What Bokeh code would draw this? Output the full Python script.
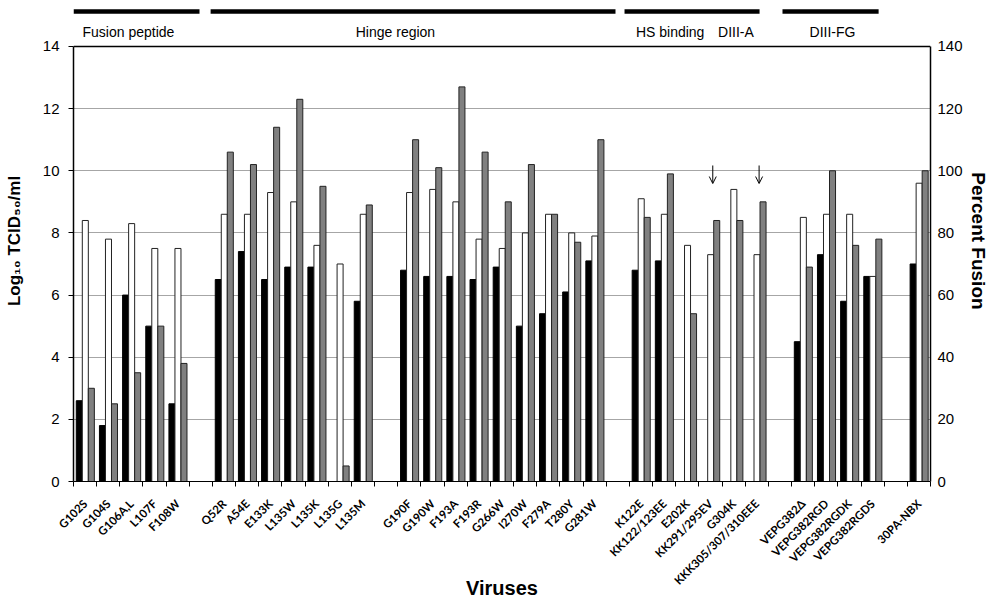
import numpy as np
from bokeh.plotting import figure
from bokeh.models import Range1d, LinearAxis, FixedTicker, Arrow, OpenHead
from bokeh.embed import file_html
from bokeh.resources import INLINE
from bokeh.core.properties import value

# ---------------- data ----------------
viruses = ["G102S", "G104S", "G106A,L", "L107F", "F108W",
           "Q52R", "A54E", "E133K", "L135W", "L135K", "L135G", "L135M",
           "G190F", "G190W", "F193A", "F193R", "G266W", "I270W", "F279A", "T280Y", "G281W",
           "K122E", "KK122/123EE", "E202K", "KK291/295EV", "G304K", "KKK305/307/310EEE",
           "VEPG382Δ", "VEPG382RGD", "VEPG382RGDK", "VEPG382RGDS",
           "30PA-NBX"]
group_sizes = [5, 7, 9, 6, 4, 1]  # one empty slot between consecutive groups

titer_black = [2.6, 1.8, 6.0, 5.0, 2.5,
               6.5, 7.4, 6.5, 6.9, 6.9, None, 5.8,
               6.8, 6.6, 6.6, 6.5, 6.9, 5.0, 5.4, 6.1, 7.1,
               6.8, 7.1, None, None, None, None,
               4.5, 7.3, 5.8, 6.6,
               7.0]
titer_white = [8.4, 7.8, 8.3, 7.5, 7.5,
               8.6, 8.6, 9.3, 9.0, 7.6, 7.0, 8.6,
               9.3, 9.4, 9.0, 7.8, 7.5, 8.0, 8.6, 8.0, 7.9,
               9.1, 8.6, 7.6, 7.3, 9.4, 7.3,
               8.5, 8.6, 8.6, 6.6,
               9.6]
fusion_pct = [30, 25, 35, 50, 38,
              106, 102, 114, 123, 95, 5, 89,
              110, 101, 127, 106, 90, 102, 86, 77, 110,
              85, 99, 54, 84, 84, 90,
              69, 100, 76, 78,
              100]

region_labels = ["Fusion peptide", "Hinge region", "HS binding", "DIII-A", "DIII-FG"]
arrow_viruses = ["KK291/295EV", "KKK305/307/310EEE"]
left_ticks = [0, 2, 4, 6, 8, 10, 12, 14]
right_ticks = [0, 20, 40, 60, 80, 100, 120, 140]

# ---------------- layout helpers ----------------
slots = []
pos = 0
for gi, n in enumerate(group_sizes):
    for k in range(n):
        slots.append(pos)
        pos += 1
    if gi < len(group_sizes) - 1:
        pos += 1
n_slots = pos
centers = np.array(slots, dtype=float) + 0.5

black = np.array(titer_black, dtype=float)
white = np.array(titer_white, dtype=float)
grey = np.array(fusion_pct, dtype=float)

YMAX = left_ticks[-1]
YTOP = 15.48

p = figure(width=995, height=602,
           x_range=Range1d(0, n_slots), y_range=Range1d(0, YTOP),
           output_backend="svg", toolbar_location=None,
           min_border_left=73, min_border_right=65, min_border_top=0, min_border_bottom=121)
p.extra_y_ranges = {"pct": Range1d(0, YTOP * 10)}
p.outline_line_color = None
p.background_fill_color = "white"
p.border_fill_color = "white"
p.xgrid.visible = False
p.ygrid.ticker = FixedTicker(ticks=left_ticks[1:-1])
p.ygrid.grid_line_color = "#a6a6a6"

# x axis
xa = p.xaxis[0]
xa.ticker = FixedTicker(ticks=list(centers), minor_ticks=list(range(n_slots + 1)))
xa.major_label_overrides = {float(c): v for c, v in zip(centers, viruses)}
xa.major_tick_out = 0
xa.major_tick_in = 0
xa.minor_tick_out = 5
xa.minor_tick_in = 0
xa.minor_tick_line_color = "black"
xa.axis_line_color = "black"
xa.major_label_orientation = np.pi / 4
xa.major_label_standoff = 15
xa.major_label_text_font = "Lato"
xa.major_label_text_font_style = "bold"
xa.major_label_text_font_size = "11.5px"
xa.major_label_text_color = "black"
xa.axis_label = "Viruses"
xa.axis_label_text_font = "Liberation Sans"
xa.axis_label_text_font_style = "bold"
xa.axis_label_text_font_size = "20px"
xa.axis_label_text_color = "black"
xa.axis_label_standoff = -17

# left axis
ya = p.yaxis[0]
ya.ticker = FixedTicker(ticks=left_ticks)
ya.bounds = (0, YMAX)
ya.axis_line_color = "black"
ya.axis_line_width = 1.5
ya.major_tick_out = 5
ya.major_tick_in = 0
ya.minor_tick_line_color = None
ya.major_label_standoff = 9
ya.major_label_text_font = "Liberation Sans"
ya.major_label_text_font_size = "15px"
ya.major_label_text_color = "black"
ya.axis_label = "Log₁₀ TCID₅₀/ml"
ya.axis_label_text_font = "Liberation Sans"
ya.axis_label_text_font_style = "bold"
ya.axis_label_text_font_size = "17px"
ya.axis_label_text_color = "black"
ya.axis_label_standoff = 16

# right axis
ra = LinearAxis(y_range_name="pct", ticker=FixedTicker(ticks=right_ticks), bounds=(0, 140))
ra.axis_line_color = "black"
ra.axis_line_width = 1.5
ra.major_tick_out = 0
ra.major_tick_in = 0
ra.minor_tick_out = 0
ra.minor_tick_in = 0
ra.minor_tick_line_color = None
ra.major_label_standoff = 7
ra.major_label_text_font = "Liberation Sans"
ra.major_label_text_font_size = "15px"
ra.major_label_text_color = "black"
ra.axis_label = "Percent Fusion"
ra.axis_label_text_font = "Liberation Sans"
ra.axis_label_text_font_style = "bold"
ra.axis_label_text_font_size = "19px"
ra.axis_label_text_color = "black"
ra.axis_label_standoff = 2
p.add_layout(ra, "right")

# top frame line
p.segment(x0=[0], y0=[YMAX], x1=[n_slots], y1=[YMAX], line_color="black", line_width=1.5)

# bars
bw = 0.26
p.vbar(x=centers - 0.25, top=black, width=bw, fill_color="black", line_color="black", line_width=1)
p.vbar(x=centers + 0.01, top=white, width=bw, fill_color="white", line_color="#222222", line_width=1)
p.vbar(x=centers + 0.27, top=grey, width=bw, fill_color="#808080", line_color="#222222",
       line_width=1, y_range_name="pct")

# region bars and labels
region_spans = [(0.0, 5.44), (5.92, 23.4), (23.79, 29.62), (30.61, 34.76)]
p.segment(x0=[s[0] for s in region_spans], y0=[15.126] * 4,
          x1=[s[1] for s in region_spans], y1=[15.126] * 4,
          line_color="black", line_width=4.5)
region_label_x = [2.37, 13.9, 25.76, 28.6, 32.77]
p.text(x=region_label_x, y=[14.48] * len(region_labels), text=region_labels,
       text_font=value("Liberation Sans"), text_font_size="14px", text_color="black",
       text_align="center", text_baseline="middle")

# arrows
for v in arrow_viruses:
    xc = centers[viruses.index(v)] + 0.1
    p.add_layout(Arrow(end=OpenHead(size=7, line_width=1, line_color="black"),
                       x_start=xc, y_start=10.17, x_end=xc, y_end=9.59,
                       line_color="black", line_width=1))

open("out.html", "w").write(file_html(p, INLINE))
